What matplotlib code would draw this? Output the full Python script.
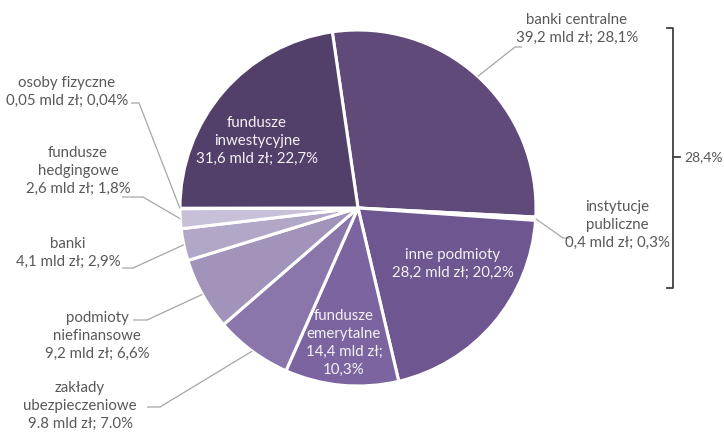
import numpy as np
import matplotlib
matplotlib.use("Agg")
import matplotlib.pyplot as plt

# dane: struktura posiadaczy (mld zł i udział w %)
kategorie = ["banki centralne", "instytucje\npubliczne", "inne podmioty", "fundusze\nemerytalne",
             "zakłady\nubezpieczeniowe", "podmioty\nniefinansowe", "banki", "fundusze\nhedgingowe",
             "osoby fizyczne", "fundusze\ninwestycyjne"]
wartosci_txt = ["39,2 mld zł; 28,1%", "0,4 mld zł; 0,3%", "28,2 mld zł; 20,2%", "14,4 mld zł;\n10,3%",
                "9.8 mld zł; 7.0%", "9,2 mld zł; 6,6%", "4,1 mld zł; 2,9%", "2,6 mld zł; 1,8%",
                "0,05 mld zł; 0,04%", "31,6 mld zł; 22,7%"]
udzialy = [28.1, 0.3, 20.2, 10.3, 7.0, 6.6, 2.9, 1.8, 0.04, 22.7]
nawias_txt = "28,4%"

kolory = ["#5f4a7a", "#ddd6e6", "#6e5690", "#7c64a0", "#8b76ab", "#a193b9",
          "#b3a7c8", "#c8bfd8", "#d2cae0", "#523f6a"]

H = 432
def fy(y):
    return H - y

plt.rcParams['font.family'] = ['Lato', 'DejaVu Sans']
fig = plt.figure(figsize=(7.24, 4.32), dpi=100)
ax = fig.add_axes([0, 0, 1, 1])

cx, cy, R = 358, 208, 178
wedges, _ = ax.pie(udzialy, colors=kolory, startangle=98.3, counterclock=False,
                   center=(cx, fy(cy)), radius=R,
                   wedgeprops=dict(edgecolor="white", linewidth=2.2))
ax.set_xlim(0, 724)
ax.set_ylim(0, H)
ax.set_aspect("equal")
ax.axis("off")

szary = "#595959"
linia = "#a6a6a6"
fs = 10.8
ls = 1.36

# etykiety wewnątrz
wewn = {9: (257, 141), 2: (453, 264), 3: (344, 343)}
for i, (x, y) in wewn.items():
    ax.text(x, fy(y), kategorie[i] + "\n" + wartosci_txt[i], ha="center", va="center",
            color="#f2f2f2", fontsize=fs, linespacing=ls)

# etykiety zewnętrzne: środek tekstu, punkt przy tekście, kolanko
zewn = {
    0: ((577, 29), (522, 47), (515, 47)),
    1: ((617, 225), (570, 238), (563, 238)),
    8: ((67, 92), (131, 103), (139, 103)),
    7: ((78, 171), (122, 197), (143, 197)),
    6: ((68, 253), (122, 268), (133, 268)),
    5: ((97, 336), (133, 320), (147, 320)),
    4: ((80, 406), (147, 407), (160, 407)),
}
for i, (txt, p1, p2) in zewn.items():
    w = wedges[i]
    kat = np.deg2rad((w.theta1 + w.theta2) / 2)
    px = cx + R * np.cos(kat)
    py = fy(cy) + R * np.sin(kat)
    ax.plot([p1[0], p2[0], px], [fy(p1[1]), fy(p2[1]), py], color=linia, lw=0.9,
            solid_capstyle="butt")
    ax.text(txt[0], fy(txt[1]), kategorie[i] + "\n" + wartosci_txt[i], ha="center",
            va="center", color=szary, fontsize=fs, linespacing=ls)

# nawias dla banków centralnych i instytucji publicznych
bx, by1, by2 = 673, 28, 288
ax.plot([667, bx, bx, 667], [fy(by1), fy(by1), fy(by2), fy(by2)], color="#404040", lw=1.3)
ax.plot([bx, 680], [fy(157), fy(157)], color="#404040", lw=1.3)
ax.text(684, fy(157), nawias_txt, ha="left", va="center", color=szary, fontsize=10)

fig.savefig("out.png", dpi=100)
